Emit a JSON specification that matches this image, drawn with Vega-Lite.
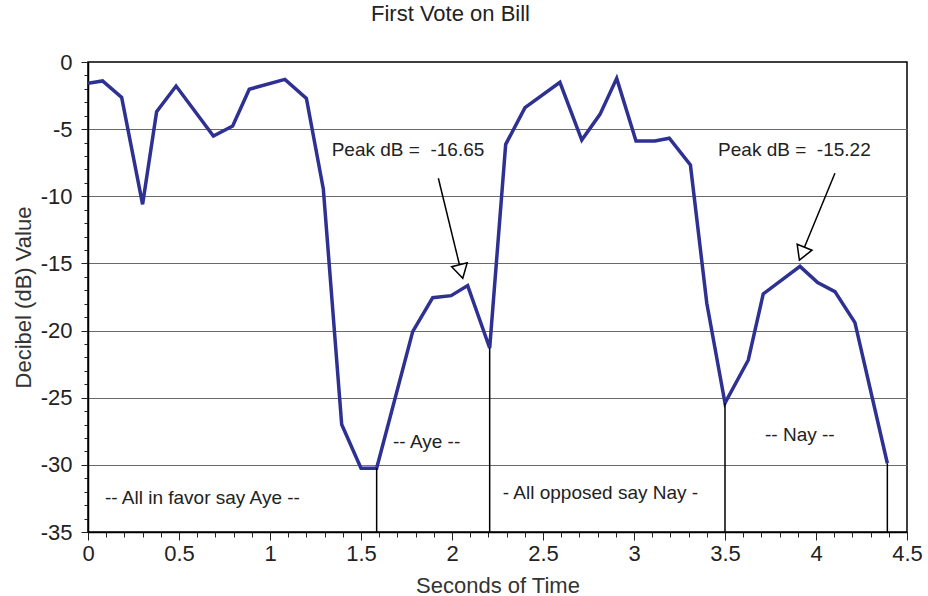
{
  "$schema": "https://vega.github.io/schema/vega-lite/v6.json",
  "autosize": {"type": "none"},
  "width": 819,
  "height": 470,
  "padding": {"left": 88, "top": 62, "right": 21, "bottom": 64},
  "background": "white",
  "config": {
    "font": "Liberation Sans",
    "view": {"stroke": "black", "strokeWidth": 1.5},
    "axis": {"labelFont": "Liberation Sans", "titleFont": "Liberation Sans", "labelColor": "#222", "titleColor": "#333", "titleFontWeight": "normal"}
  },
  "title": {"text": "First Vote on Bill", "font": "Liberation Sans", "fontSize": 22, "fontWeight": "normal", "color": "#222", "anchor": "middle", "dx": -47, "baseline": "alphabetic", "offset": 8},
  "datasets": {
    "signal": [
      {"t": 0.0, "db": -1.59},
      {"t": 0.08, "db": -1.41},
      {"t": 0.185, "db": -2.63},
      {"t": 0.30, "db": -10.6},
      {"t": 0.377, "db": -3.70},
      {"t": 0.484, "db": -1.79},
      {"t": 0.689, "db": -5.51},
      {"t": 0.795, "db": -4.77},
      {"t": 0.886, "db": -2.03},
      {"t": 1.082, "db": -1.29},
      {"t": 1.20, "db": -2.71},
      {"t": 1.293, "db": -9.45},
      {"t": 1.394, "db": -27.0},
      {"t": 1.50, "db": -30.25},
      {"t": 1.586, "db": -30.25},
      {"t": 1.784, "db": -20.08},
      {"t": 1.894, "db": -17.55},
      {"t": 1.995, "db": -17.40},
      {"t": 2.086, "db": -16.65},
      {"t": 2.207, "db": -21.3},
      {"t": 2.295, "db": -6.13},
      {"t": 2.401, "db": -3.40},
      {"t": 2.593, "db": -1.51},
      {"t": 2.713, "db": -5.81},
      {"t": 2.813, "db": -3.90},
      {"t": 2.905, "db": -1.22},
      {"t": 3.011, "db": -5.88},
      {"t": 3.115, "db": -5.88},
      {"t": 3.194, "db": -5.68},
      {"t": 3.31, "db": -7.67},
      {"t": 3.40, "db": -17.97},
      {"t": 3.50, "db": -25.4},
      {"t": 3.628, "db": -22.19},
      {"t": 3.71, "db": -17.27},
      {"t": 3.912, "db": -15.22},
      {"t": 4.009, "db": -16.43},
      {"t": 4.104, "db": -17.10},
      {"t": 4.214, "db": -19.41},
      {"t": 4.392, "db": -29.88}
    ],
    "drops": [
      {"t": 1.586, "db": -30.25},
      {"t": 2.207, "db": -21.3},
      {"t": 3.5, "db": -25.4},
      {"t": 4.392, "db": -29.88}
    ],
    "labels": [
      {"t": 1.339, "db": -6.55, "text": "Peak dB = \u00a0-16.65"},
      {"t": 3.462, "db": -6.55, "text": "Peak dB = \u00a0-15.22"},
      {"t": 1.676, "db": -28.3, "text": "-- Aye --"},
      {"t": 3.72, "db": -27.77, "text": "-- Nay --"},
      {"t": 0.093, "db": -32.46, "text": "-- All in favor say Aye --"},
      {"t": 2.279, "db": -32.09, "text": "- All opposed say Nay -"}
    ],
    "arrows": [
      {"id": "aye", "t": 1.925, "db": -8.66, "t2": 2.041, "db2": -15.10, "ht": 2.050, "hdb": -15.60},
      {"id": "nay", "t": 4.104, "db": -8.29, "t2": 3.937, "db2": -13.78, "ht": 3.923, "hdb": -14.27}
    ]
  },
  "layer": [
    {
      "data": {"name": "signal"},
      "mark": {"type": "line", "color": "#2e3192", "strokeWidth": 3.5, "strokeJoin": "miter", "clip": true},
      "encoding": {
        "x": {
          "field": "t", "type": "quantitative",
          "scale": {"domain": [0, 4.5], "nice": false, "zero": false},
          "axis": {
            "title": "Seconds of Time", "titleFontSize": 22, "titleBaseline": "alphabetic", "titleY": 60,
            "values": [0, 0.1, 0.2, 0.3, 0.4, 0.5, 0.6, 0.7, 0.8, 0.9, 1, 1.1, 1.2, 1.3, 1.4, 1.5, 1.6, 1.7, 1.8, 1.9, 2, 2.1, 2.2, 2.3, 2.4, 2.5, 2.6, 2.7, 2.8, 2.9, 3, 3.1, 3.2, 3.3, 3.4, 3.5, 3.6, 3.7, 3.8, 3.9, 4, 4.1, 4.2, 4.3, 4.4, 4.5],
            "tickCount": 200,
            "labelExpr": "abs(datum.value * 2 - round(datum.value * 2)) < 0.000001 ? toString(datum.value) : ''",
            "labelFontSize": 22, "labelPadding": 3, "labelOverlap": false, "labelFlush": false,
            "tickSize": {"condition": {"test": "abs(datum.value * 2 - round(datum.value * 2)) < 0.000001", "value": 8}, "value": 5},
            "tickColor": "#222", "tickWidth": 1,
            "domainColor": "black", "domainWidth": 1.5,
            "grid": false
          }
        },
        "y": {
          "field": "db", "type": "quantitative",
          "scale": {"domain": [-35, 0], "nice": false, "zero": false},
          "axis": {
            "title": "Decibel (dB) Value", "titleFontSize": 22, "titleBaseline": "alphabetic", "titleX": -58, "titleAngle": -90,
            "values": [-35, -34, -33, -32, -31, -30, -29, -28, -27, -26, -25, -24, -23, -22, -21, -20, -19, -18, -17, -16, -15, -14, -13, -12, -11, -10, -9, -8, -7, -6, -5, -4, -3, -2, -1, 0],
            "tickCount": 200,
            "labelExpr": "datum.value % 5 === 0 ? toString(datum.value) : ''",
            "labelFontSize": 22, "labelPadding": 9, "labelOverlap": false, "labelFlush": false,
            "tickSize": {"condition": {"test": "datum.value % 5 === 0", "value": 7}, "value": 4},
            "tickColor": "#222", "tickWidth": 1,
            "domainColor": "black", "domainWidth": 1.5,
            "grid": true, "gridColor": "#6a6a6a", "gridWidth": 1.2,
            "gridOpacity": {"condition": {"test": "datum.value % 5 === 0 && datum.value > -35 && datum.value < 0", "value": 1}, "value": 0}
          }
        }
      }
    },
    {
      "data": {"name": "drops"},
      "mark": {"type": "rule", "color": "black", "strokeWidth": 1.5},
      "encoding": {
        "x": {"field": "t", "type": "quantitative"},
        "y": {"field": "db", "type": "quantitative"},
        "y2": {"datum": -35}
      }
    },
    {
      "data": {"name": "labels"},
      "mark": {"type": "text", "align": "left", "baseline": "middle", "fontSize": 19, "color": "#222", "font": "Liberation Sans"},
      "encoding": {
        "x": {"field": "t", "type": "quantitative"},
        "y": {"field": "db", "type": "quantitative"},
        "text": {"field": "text"}
      }
    },
    {
      "data": {"name": "arrows"},
      "mark": {"type": "rule", "color": "black", "strokeWidth": 1.5},
      "encoding": {
        "x": {"field": "t", "type": "quantitative"},
        "y": {"field": "db", "type": "quantitative"},
        "x2": {"field": "t2"},
        "y2": {"field": "db2"}
      }
    },
    {
      "data": {"name": "arrows"},
      "transform": [{"filter": "datum.id === 'aye'"}],
      "mark": {"type": "point", "shape": "triangle-up", "size": 256, "filled": true, "fill": "white", "stroke": "black", "strokeWidth": 1.5, "opacity": 1, "angle": 166},
      "encoding": {
        "x": {"field": "ht", "type": "quantitative"},
        "y": {"field": "hdb", "type": "quantitative"}
      }
    },
    {
      "data": {"name": "arrows"},
      "transform": [{"filter": "datum.id === 'nay'"}],
      "mark": {"type": "point", "shape": "triangle-up", "size": 256, "filled": true, "fill": "white", "stroke": "black", "strokeWidth": 1.5, "opacity": 1, "angle": 202},
      "encoding": {
        "x": {"field": "ht", "type": "quantitative"},
        "y": {"field": "hdb", "type": "quantitative"}
      }
    }
  ]
}
